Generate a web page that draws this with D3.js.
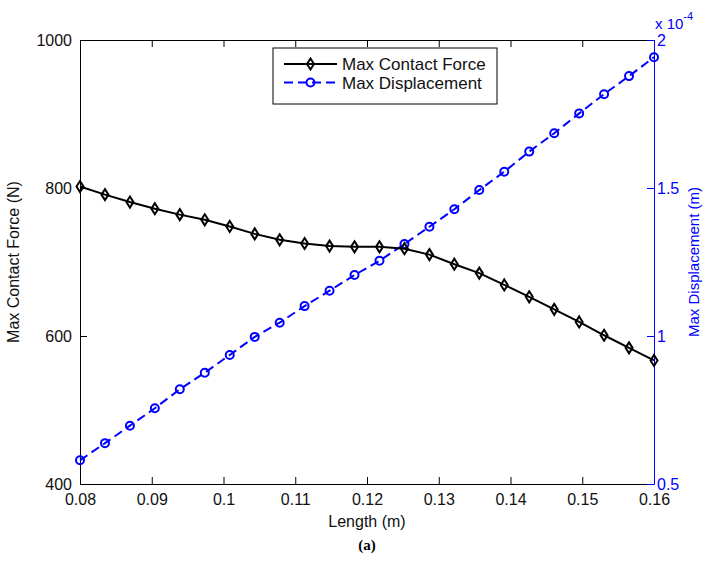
<!DOCTYPE html>
<html>
<head>
<meta charset="utf-8">
<script src="https://cdn.jsdelivr.net/npm/d3@7"></script>
<style>
  body { margin: 0; background: #fff; }
  svg { font-family: "Liberation Sans", Arial, sans-serif; }
</style>
</head>
<body>
<svg id="chart"></svg>
<script>
// Length (m) of each run
const lengths = [0.08, 0.08348, 0.08696, 0.09043, 0.09391, 0.09739, 0.10087, 0.10435,
    0.10783, 0.1113, 0.11478, 0.11826, 0.12174, 0.12522, 0.1287, 0.13217,
    0.13565, 0.13913, 0.14261, 0.14609, 0.14957, 0.15304, 0.15652, 0.16];

// Max contact force (N)
const forces = [802, 791, 781, 772, 764, 757, 748, 738, 730, 725, 721.5, 720.5,
    720.5, 718, 710, 697, 685, 669, 653, 636, 619, 601, 584, 567];

// Max displacement, in units of 1e-4 m
const displacements = [0.58, 0.638, 0.697, 0.756, 0.82, 0.876, 0.936, 0.997,
    1.045, 1.101, 1.153, 1.206, 1.254, 1.311, 1.369, 1.428,
    1.493, 1.555, 1.623, 1.685, 1.752, 1.817, 1.878, 1.942];

const xTicks = [0.08, 0.09, 0.1, 0.11, 0.12, 0.13, 0.14, 0.15, 0.16];
const forceTicks = [400, 600, 800, 1000];
const dispTicks = [0.5, 1, 1.5, 2];

class LengthChart {

    constructor(_config) {
        this.config = {
            parentElement: _config.parentElement,
            containerWidth: 703,
            containerHeight: 563,
            margin: { top: 40, right: 49, bottom: 79, left: 80 }
        }
        this.initVis();
    }

    initVis() {
        let vis = this;

        vis.width = vis.config.containerWidth - vis.config.margin.left - vis.config.margin.right;
        vis.height = vis.config.containerHeight - vis.config.margin.top - vis.config.margin.bottom;

        vis.svg = d3.select(vis.config.parentElement)
            .attr('width', vis.config.containerWidth)
            .attr('height', vis.config.containerHeight);

        vis.chart = vis.svg.append('g')
            .attr('transform', `translate(${vis.config.margin.left},${vis.config.margin.top})`);

        vis.xScale = d3.scaleLinear().domain([0.08, 0.16]).range([0, vis.width]);
        vis.yForce = d3.scaleLinear().domain([400, 1000]).range([vis.height, 0]);
        vis.yDisp = d3.scaleLinear().domain([0.5, 2]).range([vis.height, 0]);

        vis.renderVis();
    }

    renderVis() {
        let vis = this;
        const w = vis.width, h = vis.height;

        // top border with ticks pointing down
        vis.chart.append('g')
            .attr('class', 'axis x-top')
            .call(d3.axisTop(vis.xScale).tickValues(xTicks).tickSizeInner(-7).tickSizeOuter(0).tickFormat(''))
            .call(g => g.selectAll('line,path').attr('stroke', '#000'));

        // bottom axis
        const xAxisG = vis.chart.append('g')
            .attr('class', 'axis x-axis')
            .attr('transform', `translate(0,${h})`)
            .call(d3.axisBottom(vis.xScale).tickValues(xTicks).tickSizeInner(-7).tickSizeOuter(0)
                .tickPadding(10).tickFormat(d => String(d)));
        xAxisG.selectAll('line,path').attr('stroke', '#000');
        xAxisG.selectAll('text').attr('font-size', '16px').attr('fill', '#111')
            .attr('font-family', '"Liberation Sans", Arial, sans-serif');

        // left axis
        const yAxisG = vis.chart.append('g')
            .attr('class', 'axis y-axis')
            .call(d3.axisLeft(vis.yForce).tickValues(forceTicks).tickSizeInner(-7).tickSizeOuter(0)
                .tickPadding(8).tickFormat(d3.format('d')));
        yAxisG.selectAll('line,path').attr('stroke', '#000');
        yAxisG.selectAll('text').attr('font-size', '16px').attr('fill', '#111')
            .attr('font-family', '"Liberation Sans", Arial, sans-serif');

        // right axis in blue
        const y2AxisG = vis.chart.append('g')
            .attr('class', 'axis y2-axis')
            .attr('transform', `translate(${w},0)`)
            .call(d3.axisRight(vis.yDisp).tickValues(dispTicks).tickSizeInner(-7).tickSizeOuter(0).tickPadding(3)
                .tickFormat(d => String(d)));
        y2AxisG.selectAll('line,path').attr('stroke', '#0000ff');
        y2AxisG.selectAll('text').attr('font-size', '16px').attr('fill', '#0000ff')
            .attr('font-family', '"Liberation Sans", Arial, sans-serif');

        // exponent label above right axis
        const expo = vis.chart.append('text')
            .attr('x', w + 1)
            .attr('y', -11)
            .attr('fill', '#0000ff')
            .attr('font-size', '15px');
        expo.append('tspan').text('x 10');
        expo.append('tspan').attr('font-size', '11px').attr('dy', -9).text('-4');

        // lines
        const forceLine = d3.line()
            .x((d, i) => vis.xScale(lengths[i]))
            .y(d => vis.yForce(d));
        const dispLine = d3.line()
            .x((d, i) => vis.xScale(lengths[i]))
            .y(d => vis.yDisp(d));

        vis.chart.append('path')
            .datum(displacements)
            .attr('d', dispLine)
            .attr('fill', 'none')
            .attr('stroke', '#0000ff')
            .attr('stroke-width', 2)
            .attr('stroke-dasharray', '9,5');

        vis.chart.selectAll('.disp-marker')
            .data(displacements)
            .join('circle')
            .attr('class', 'disp-marker')
            .attr('cx', (d, i) => vis.xScale(lengths[i]))
            .attr('cy', d => vis.yDisp(d))
            .attr('r', 4)
            .attr('fill', 'none')
            .attr('stroke', '#0000ff')
            .attr('stroke-width', 2);

        vis.chart.append('path')
            .datum(forces)
            .attr('d', forceLine)
            .attr('fill', 'none')
            .attr('stroke', '#000')
            .attr('stroke-width', 2);

        const diamond = 'M0,-5.5L3.5,0L0,5.5L-3.5,0Z';
        vis.chart.selectAll('.force-marker')
            .data(forces)
            .join('path')
            .attr('class', 'force-marker')
            .attr('d', diamond)
            .attr('transform', (d, i) => `translate(${vis.xScale(lengths[i])},${vis.yForce(d)})`)
            .attr('fill', 'none')
            .attr('stroke', '#000')
            .attr('stroke-width', 2);

        // axis titles
        vis.chart.append('text')
            .attr('x', w / 2)
            .attr('y', h + 43)
            .attr('text-anchor', 'middle')
            .attr('font-size', '16px')
            .attr('fill', '#111')
            .text('Length (m)');

        vis.chart.append('text')
            .attr('transform', `translate(${-61},${h / 2}) rotate(-90)`)
            .attr('text-anchor', 'middle')
            .attr('font-size', '16px')
            .attr('fill', '#111')
            .text('Max Contact Force (N)');

        vis.chart.append('text')
            .attr('transform', `translate(${w + 45},${h / 2}) rotate(-90)`)
            .attr('text-anchor', 'middle')
            .attr('font-size', '15px')
            .attr('fill', '#0000ff')
            .text('Max Displacement (m)');

        vis.svg.append('text')
            .attr('x', vis.config.margin.left + w / 2)
            .attr('y', 550)
            .attr('text-anchor', 'middle')
            .attr('font-family', '"Liberation Serif", "Times New Roman", serif')
            .attr('font-weight', 'bold')
            .attr('font-size', '15px')
            .text('(a)');

        // legend
        const legend = vis.chart.append('g')
            .attr('transform', 'translate(193,8)');
        legend.append('rect')
            .attr('width', 224)
            .attr('height', 56)
            .attr('fill', '#fff')
            .attr('stroke', '#000')
            .attr('stroke-width', 1);

        const items = [
            { label: 'Max Contact Force', color: '#000', dash: null, marker: 'diamond', y: 16 },
            { label: 'Max Displacement', color: '#0000ff', dash: '9,5', marker: 'circle', y: 34.5 }
        ];
        items.forEach(it => {
            legend.append('line')
                .attr('x1', 11).attr('x2', 64)
                .attr('y1', it.y).attr('y2', it.y)
                .attr('stroke', it.color)
                .attr('stroke-width', 2)
                .attr('stroke-dasharray', it.dash);
            if (it.marker === 'diamond') {
                legend.append('path')
                    .attr('d', diamond)
                    .attr('transform', `translate(37.5,${it.y})`)
                    .attr('fill', 'none').attr('stroke', it.color).attr('stroke-width', 2);
            } else {
                legend.append('circle')
                    .attr('cx', 37.5).attr('cy', it.y).attr('r', 4)
                    .attr('fill', 'none').attr('stroke', it.color).attr('stroke-width', 2);
            }
            legend.append('text')
                .attr('x', 69)
                .attr('y', it.y + 6)
                .attr('font-size', '17px')
                .attr('fill', '#111')
                .text(it.label);
        });
    }
}

new LengthChart({ parentElement: '#chart' });
</script>
</body>
</html>
